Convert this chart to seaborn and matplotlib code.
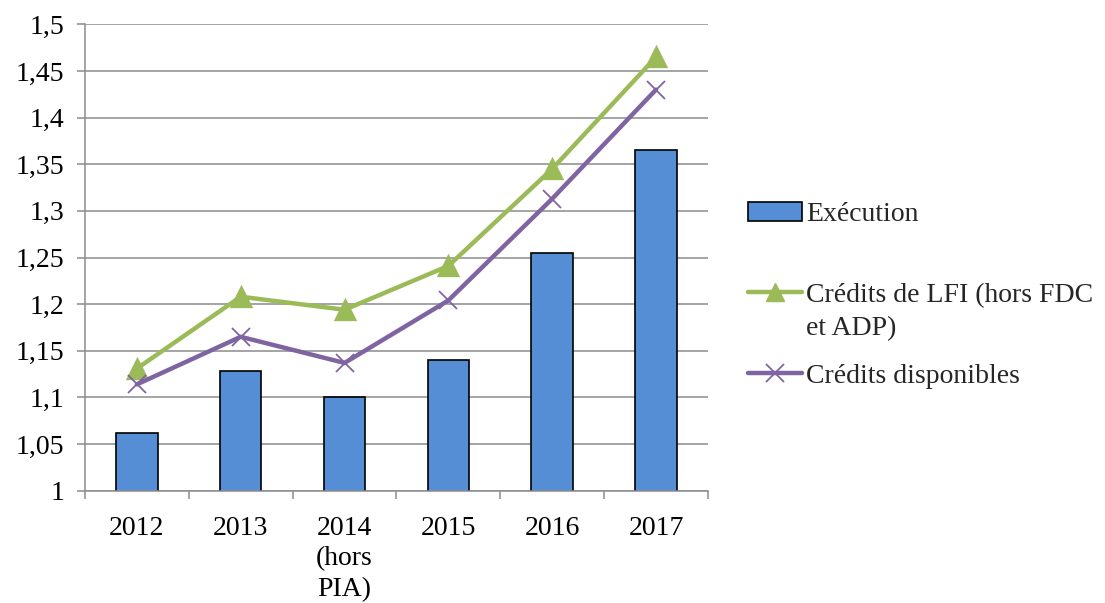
import matplotlib
matplotlib.use("Agg")
import matplotlib.pyplot as plt
from matplotlib.ticker import FixedLocator, FuncFormatter
from matplotlib.lines import Line2D
from matplotlib.patches import Patch
import seaborn as sns
import pandas as pd

# Data
years = ["2012", "2013", "2014\n(hors\nPIA)", "2015", "2016", "2017"]
execution = [1.062, 1.128, 1.101, 1.140, 1.255, 1.365]
credits_lfi = [1.131, 1.208, 1.194, 1.241, 1.345, 1.465]
credits_dispo = [1.114, 1.165, 1.137, 1.204, 1.313, 1.430]

BLUE = "#558ED5"
GREEN = "#9BBB59"
PURPLE = "#8064A2"
GRID = "#8C8C8C"
FS = 20

sns.set_theme(style="white")
plt.rcParams["font.family"] = ["Liberation Serif", "DejaVu Serif"]

fig = plt.figure(figsize=(11.05, 6.03), dpi=100)
ax = fig.add_axes([0.0769, 0.1862, 0.5638, 0.7735])

df = pd.DataFrame({"annee": years, "exec": execution,
                   "lfi": credits_lfi, "dispo": credits_dispo})

sns.barplot(data=df, x="annee", y="exec", color=BLUE, saturation=1,
            width=0.40, edgecolor="black", linewidth=1.2, ax=ax, zorder=2)
sns.pointplot(data=df, x="annee", y="lfi", color=GREEN, markers="^",
              markersize=13, linewidth=3.2, ax=ax, zorder=3)
sns.pointplot(data=df, x="annee", y="dispo", color=PURPLE, markers="x",
              markersize=13, linewidth=3.2, markeredgewidth=1.3, ax=ax, zorder=4)

ax.set_xlim(-0.5, 5.5)
ax.set_ylim(1.0, 1.5)
ax.set_xlabel("")
ax.set_ylabel("")

# y axis: gridlines every 0.05, decimal comma labels
yt = [1.0 + 0.05 * i for i in range(11)]
ax.yaxis.set_major_locator(FixedLocator(yt))
ax.yaxis.set_major_formatter(FuncFormatter(lambda v, p: f"{v:.2f}".rstrip("0").rstrip(".").replace(".", ",")))
ax.grid(axis="y", color=GRID, linewidth=1.1, zorder=0)
ax.set_axisbelow(True)
ax.tick_params(axis="y", which="major", left=True, length=6, width=1.1,
               color=GRID, pad=9, labelsize=FS, labelcolor="black")

# x axis: tick marks between categories, labels centred on bars
ax.xaxis.set_major_locator(FixedLocator([i - 0.5 for i in range(7)]))
ax.xaxis.set_minor_locator(FixedLocator(list(range(6))))
ax.set_xticklabels([""] * 7)
ax.set_xticklabels(years, minor=True)
ax.tick_params(axis="x", which="major", bottom=True, length=6, width=1.1, color=GRID)
ax.tick_params(axis="x", which="minor", bottom=True, length=0, pad=18,
               labelsize=FS, labelcolor="black")
for t in ax.get_xticklabels(minor=True):
    t.set_linespacing(1.3)

for s in ["top", "right"]:
    ax.spines[s].set_visible(False)
for s in ["left", "bottom"]:
    ax.spines[s].set_color(GRID)
    ax.spines[s].set_linewidth(1.1)

handles = [
    Patch(facecolor=BLUE, edgecolor="black", linewidth=1.2),
    Line2D([], [], color=GREEN, lw=3.2, marker="^", markersize=13),
    Line2D([], [], color=PURPLE, lw=3.2, marker="x", markersize=13, markeredgewidth=1.3),
]
labels = ["Exécution", "Crédits de LFI (hors FDC", "Crédits disponibles"]
leg = fig.legend(handles, labels, loc="center left", bbox_to_anchor=(0.677, 0.51),
                 frameon=False, fontsize=FS, handlelength=1.95, handletextpad=0.15,
                 labelspacing=2.0, borderpad=0, borderaxespad=0)

# second line of the LFI label, set just under the first line
fig.canvas.draw()
r = fig.canvas.get_renderer()
bb = leg.get_texts()[1].get_window_extent(r)
fig.text(bb.x0 / fig.bbox.width, (bb.y0 - 33) / fig.bbox.height, "et ADP)",
         fontsize=FS, ha="left", va="bottom")

fig.savefig("out.png", dpi=100)
